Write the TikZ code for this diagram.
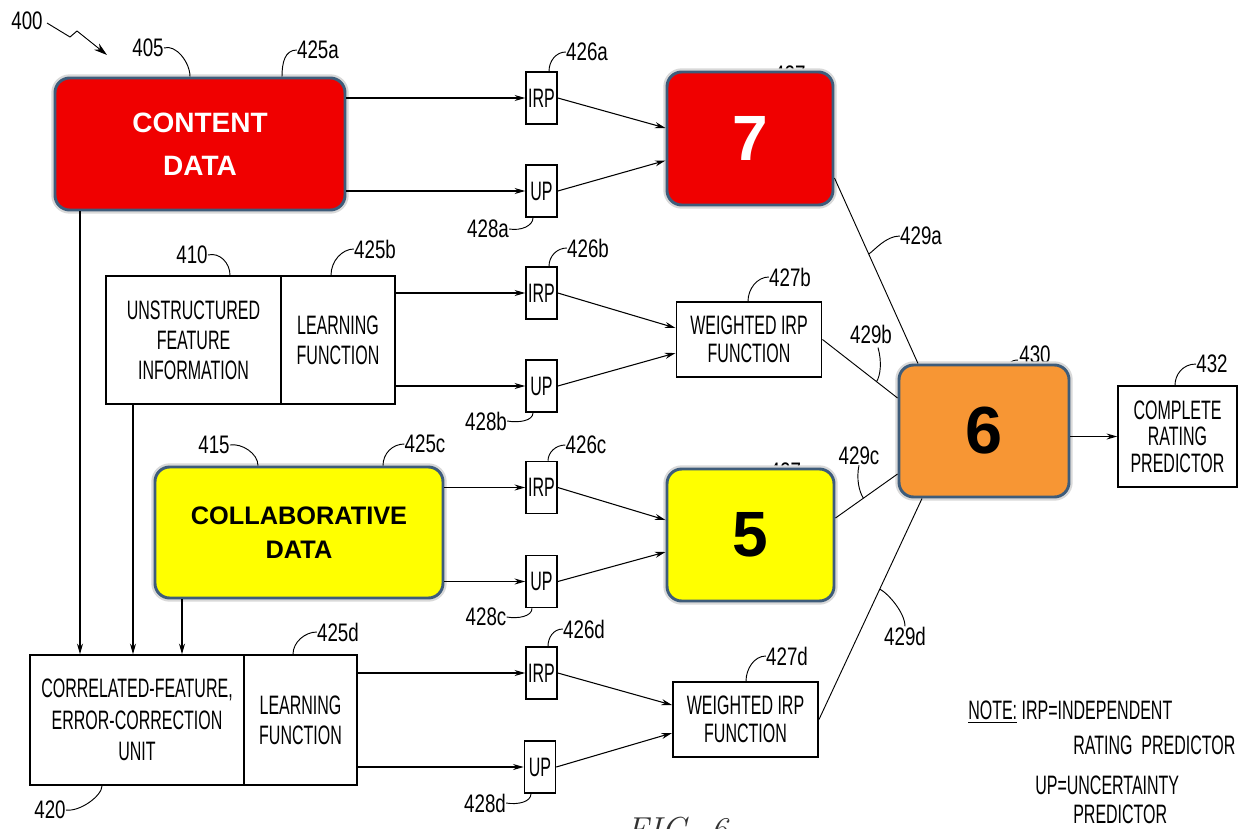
\documentclass[tikz,border=0pt]{standalone}
\usepackage{fontspec}
\usetikzlibrary{arrows.meta,calc}
\newfontfamily\pat[FakeStretch=0.6]{Liberation Sans}
\newfontfamily\patl[FakeStretch=0.74]{Liberation Sans}
\newfontfamily\bsans{Liberation Sans}
\definecolor{bord}{RGB}{62,92,122}
\definecolor{cred}{RGB}{240,0,0}
\definecolor{cyel}{RGB}{255,255,0}
\definecolor{cora}{RGB}{247,150,52}
\begin{document}
\begin{tikzpicture}[x=0.75pt,y=-0.75pt,
  pbox/.style={draw, line width=1.2pt, fill=white, inner sep=0pt, align=center, font=\pat\fontsize{20}{22.5}\selectfont},
  sbox/.style={pbox, minimum width=23.25pt, minimum height=39pt},
  wbox/.style={pbox, minimum width=109pt, minimum height=56.25pt, font=\pat\fontsize{20}{21}\selectfont},
  cbox/.style={draw=bord, line width=2.2pt, rounded corners=11pt, inner sep=0pt, align=center, preaction={draw=black!15, line width=5.5pt}},
  lbl/.style={font=\patl\fontsize{19}{20}\selectfont, inner sep=0pt},
  note/.style={font=\pat\fontsize{20}{20}\selectfont, inner sep=0pt, anchor=west},
  arr/.style={-{Stealth[length=8pt,width=4.5pt]}, line width=0.8pt},
  lead/.style={line width=0.7pt},
  conn/.style={line width=0.7pt}]
\fill[white] (0,0) rectangle (1244,828);
\useasboundingbox (0,0) rectangle (1244,828);

% labels partly hidden behind boxes
\node[lbl] (l427a) at (795,75) {427a};
\node[lbl] (l427c) at (790,472) {427c};
\node[lbl] (l430) at (1035,355) {430};
\draw[lead] ($(l430.west)+(-1,5)$) .. controls +(-8,0) and +(4,-3) .. (1004,368);

% coloured boxes
\node[cbox, fill=cred, text=white, minimum width=217.5pt, minimum height=99pt,
  font=\bsans\bfseries\fontsize{21}{32}\selectfont] (content) at (200,144) {CONTENT\\DATA};
\node[cbox, fill=cred, text=white, minimum width=124.5pt, minimum height=99.75pt,
  font=\bsans\bfseries\fontsize{48}{50}\selectfont] (seven) at (750,138.5) {7};
\node[cbox, fill=cyel, minimum width=216pt, minimum height=98.25pt,
  font=\bsans\bfseries\fontsize{19}{25.5}\selectfont] (collab) at (299,532.5) {COLLABORATIVE\\DATA};
\node[cbox, fill=cyel, minimum width=125.25pt, minimum height=99pt,
  font=\bsans\bfseries\fontsize{48}{50}\selectfont] (five) at (750.5,535) {5};
\node[cbox, fill=cora, minimum width=127.5pt, minimum height=99pt,
  font=\bsans\bfseries\fontsize{50}{52}\selectfont] (six) at (984,431) {6};

% patent boxes
\node[pbox, minimum width=131.25pt, minimum height=96pt] (uL) at (193.5,340) {UNSTRUCTURED\\FEATURE\\INFORMATION};
\node[pbox, minimum width=85.5pt, minimum height=96pt] (uR) at (338,340) {LEARNING\\FUNCTION};
\node[pbox, minimum width=160.5pt, minimum height=97.5pt, font=\pat\fontsize{20}{23.5}\selectfont] (cL) at (137,720) {CORRELATED-FEATURE,\\ERROR-CORRECTION\\UNIT};
\node[pbox, minimum width=84.75pt, minimum height=97.5pt] (cR) at (300.5,720) {LEARNING\\FUNCTION};

\node[sbox] (irpa) at (541.5,98) {IRP};
\node[sbox] (upa) at (541.5,191) {UP};
\node[sbox] (irpb) at (541.5,293) {IRP};
\node[sbox] (upb) at (541.5,386) {UP};
\node[sbox] (irpc) at (541.5,487.5) {IRP};
\node[sbox] (upc) at (541.5,581.5) {UP};
\node[sbox] (irpd) at (541.5,673) {IRP};
\node[sbox] (upd) at (540,767) {UP};

\node[wbox] (wb) at (749,339.5) {WEIGHTED IRP\\FUNCTION};
\node[wbox] (wd) at (745.5,719.5) {WEIGHTED IRP\\FUNCTION};
\node[pbox, minimum width=89.25pt, minimum height=75.75pt, font=\pat\fontsize{20}{20}\selectfont] (crp) at (1177.5,436.5) {COMPLETE\\RATING\\PREDICTOR};

% arrows into IRP / UP
\draw[arr] (content.east |- irpa.west) -- (irpa.west);
\draw[arr] (content.east |- upa.west) -- (upa.west);
\draw[arr] (uR.east |- irpb.west) -- (irpb.west);
\draw[arr] (uR.east |- upb.west) -- (upb.west);
\draw[arr] (collab.east |- irpc.west) -- (irpc.west);
\draw[arr] (collab.east |- upc.west) -- (upc.west);
\draw[arr] (cR.east |- irpd.west) -- (irpd.west);
\draw[arr] (cR.east |- upd.west) -- (upd.west);

% arrows into combiners
\draw[arr] (irpa.east) -- ($(seven.west)+(0,-10.5)$);
\draw[arr] (upa.east) -- ($(seven.west)+(0,22)$);
\draw[arr] (irpb.east) -- ($(wb.west)+(0,-11.5)$);
\draw[arr] (upb.east) -- ($(wb.west)+(0,13.5)$);
\draw[arr] (irpc.east) -- ($(five.west)+(0,-15)$);
\draw[arr] (upc.east) -- ($(five.west)+(0,17)$);
\draw[arr] (irpd.east) -- ($(wd.west)+(0,-14.5)$);
\draw[arr] (upd.east) -- ($(wd.west)+(0,13.5)$);

% vertical arrows into correlated-feature unit
\draw[arr] (content.south -| 80,0) -- (cL.north -| 80,0);
\draw[arr] (uL.south -| 133,0) -- (cL.north -| 133,0);
\draw[arr] (collab.south -| 182,0) -- (cL.north -| 182,0);

% lines into 6
\coordinate (p7) at (seven.east |- 0,178);
\coordinate (p6a) at (six.north -| 918,0);
\coordinate (pwb) at (wb.east);
\coordinate (p6b) at (six.west |- 0,398);
\coordinate (p5) at (five.east |- 0,518);
\coordinate (p6c) at (six.west |- 0,474);
\coordinate (pwd) at (wd.east);
\coordinate (p6d) at (six.south -| 922,0);
\draw[conn] (p7) -- (p6a);
\draw[conn] (pwb) -- (p6b);
\draw[conn] (p5) -- (p6c);
\draw[conn] (pwd) -- (p6d);
\draw[arr] (six.east |- crp.west) -- (crp.west);

% reference labels
\node[lbl] (l400) at (27,21) {400};
\node[lbl] (l405) at (148,48) {405};
\node[lbl] (l425a) at (318,50) {425a};
\node[lbl] (l426a) at (587,52) {426a};
\node[lbl] (l428a) at (488,229) {428a};
\node[lbl] (l410) at (192,255) {410};
\node[lbl] (l425b) at (375,249) {425b};
\node[lbl] (l426b) at (588,248) {426b};
\node[lbl] (l428b) at (486,421) {428b};
\node[lbl] (l427b) at (790,277) {427b};
\node[lbl] (l429a) at (921,236) {429a};
\node[lbl] (l429b) at (871,334) {429b};
\node[lbl] (l432) at (1212,364) {432};
\node[lbl] (l415) at (214,445) {415};
\node[lbl] (l425c) at (425,444) {425c};
\node[lbl] (l426c) at (586,445) {426c};
\node[lbl] (l428c) at (486,617) {428c};
\node[lbl] (l429c) at (859,456) {429c};
\node[lbl] (l429d) at (905,636) {429d};
\node[lbl] (l425d) at (338,632) {425d};
\node[lbl] (l426d) at (584,629) {426d};
\node[lbl] (l427d) at (787,656) {427d};
\node[lbl] (l428d) at (485,803) {428d};
\node[lbl] (l420) at (50,810) {420};

% 400 zig-zag arrow
\coordinate (z1) at (47,23);
\coordinate (z2) at (70,37);
\coordinate (z3) at (77,31);
\coordinate (z4) at (107,55);
\draw[lead, -{Stealth[length=10pt,width=6pt]}] (z1) -- (z2) -- (z3) -- (z4);

% leaders
\draw[lead] (l405.east) .. controls +(12,-4) and +(0,-14) .. (content.north -| 190,0);
\draw[lead] (l425a.west) .. controls +(-12,0) and +(0,-14) .. (content.north -| 282,0);
\draw[lead] (l426a.west) .. controls +(-10,0) and +(0,-10) .. (irpa.north -| 549,0);
\draw[lead] (l428a.east) .. controls +(12,2) and +(0,8) .. (upa.south -| 533,0);
\draw[lead] (l410.east) .. controls +(12,-3) and +(0,-12) .. (uL.north -| 230,0);
\draw[lead] (l425b.west) .. controls +(-12,0) and +(0,-14) .. (uR.north -| 331,0);
\draw[lead] (l426b.west) .. controls +(-10,0) and +(0,-10) .. (irpb.north -| 549,0);
\draw[lead] (l428b.east) .. controls +(12,2) and +(0,8) .. (upb.south -| 533,0);
\draw[lead] (l427b.west) .. controls +(-12,0) and +(0,-12) .. (wb.north -| 748,0);
\draw[lead] (l429a.west) .. controls +(-14,0) and +(6,-4) .. ($(p7)!0.41!(p6a)$);
\draw[lead] ($(l429b.south)+(7,4)$) .. controls +(4,14) and +(4,-6) .. ($(pwb)!0.72!(p6b)$);
\draw[lead] (l432.west) .. controls +(-14,0) and +(0,-10) .. (crp.north -| 1175,0);
\draw[lead] (l415.east) .. controls +(12,-2) and +(0,-12) .. (collab.north -| 258,0);
\draw[lead] (l425c.west) .. controls +(-12,0) and +(0,-12) .. (collab.north -| 383,0);
\draw[lead] (l426c.west) .. controls +(-10,0) and +(0,-8) .. (irpc.north -| 548,0);
\draw[lead] (l428c.east) .. controls +(12,2) and +(0,8) .. (upc.south -| 532,0);
\draw[lead] (l429c.south) .. controls +(-3,14) and +(-4,-6) .. ($(p5)!0.45!(p6c)$);
\draw[lead] (l429d.north) .. controls +(0,-14) and +(8,4) .. ($(pwd)!0.59!(p6d)$);
\draw[lead] (l425d.west) .. controls +(-12,0) and +(0,-12) .. (cR.north -| 293,0);
\draw[lead] (l426d.west) .. controls +(-10,0) and +(0,-8) .. (irpd.north -| 548,0);
\draw[lead] (l427d.west) .. controls +(-12,0) and +(0,-12) .. (wd.north -| 746,0);
\draw[lead] (l428d.east) .. controls +(12,2) and +(0,8) .. (upd.south -| 531,0);
\draw[lead] (l420.east) .. controls +(14,2) and +(0,10) .. (cL.south -| 102,0);

% note
\node[note] (note1) at (968,712) {\underline{NOTE:}\ IRP=INDEPENDENT};
\node[note] (note2) at (1073,745) {RATING\ \ PREDICTOR};
\node[note] (note3) at (1035,785) {UP=UNCERTAINTY};
\node[note] (note4) at (1073,814) {PREDICTOR};

% figure caption (cut off at the bottom edge, as in the reference)
\node[font=\itshape\fontsize{26}{26}\selectfont, anchor=base, text=black!80] (fig) at (677,841) {FIG. 6};
\end{tikzpicture}
\end{document}
